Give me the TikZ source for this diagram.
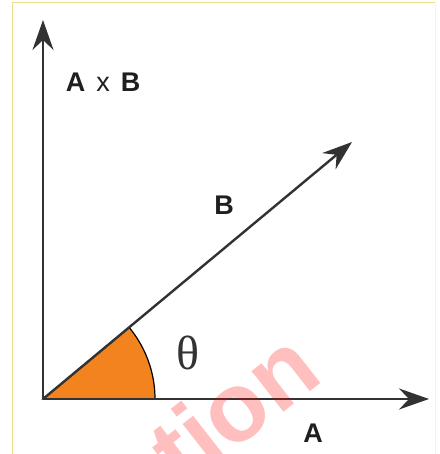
\documentclass[tikz,border=0pt]{standalone}
\usepackage{fontspec}
\setmainfont{Liberation Sans}
\newfontfamily\greekfont{Liberation Serif}
\usepackage{xcolor}
\usepackage{tikz}
\usetikzlibrary{arrows.meta}

\definecolor{vecgray}{RGB}{50,50,50}
\definecolor{wedgeorange}{RGB}{243,131,30}
\definecolor{frameyellow}{RGB}{238,222,140}

\begin{document}
\begin{tikzpicture}[
    x=0.5pt, y=0.5pt,
    vec/.style  ={-{Stealth[length=15pt,width=10.5pt,inset=5pt]},
                  line width=1.2pt, draw=vecgray},
    lbl/.style  ={font=\fontsize{13.5}{14}\selectfont\bfseries,
                  text=black!88, inner sep=0pt},
    ang/.style  ={font=\greekfont\fontsize{24}{24}\selectfont,
                  text=black!80, inner sep=0pt},
    wmark/.style={font=\fontsize{49}{49}\selectfont\bfseries,
                  text=red, text opacity=0.25, inner sep=0pt},
  ]
  \useasboundingbox (0,0) rectangle (439,454);

  % frame
  \draw[frameyellow, line width=0.8pt] (12.5,0) -- (12.5,451.5) -- (435.5,451.5);
  \draw[frameyellow!35, line width=0.8pt] (435.5,451.5) -- (435.5,0);

  % origin and vector ends
  \coordinate (O)  at (43,55);
  \coordinate (Ae) at (429,55);
  \coordinate (Be) at (352,312);
  \coordinate (Ce) at (43,434);

  % angle wedge
  \filldraw[fill=wedgeorange, draw=black, line width=0.6pt]
    (O) -- ++(39.7:112) arc[start angle=39.7, end angle=0, radius=112] -- cycle;

  % vectors
  \draw[vec] (O) -- (Ae);
  \draw[vec] (O) -- (Be);
  \draw[vec] (O) -- (Ce);

  % labels
  \node[lbl] (lAxB) at (103,372) {A\hspace{5.5pt}{\mdseries x}\hspace{5.5pt}B};
  \node[lbl] (lB)   at (224,249) {B};
  \node[lbl] (lA)   at (313,21)  {A};
  \node[ang] (th)   at (188,101) {θ};

  % watermark
  \node[wmark, rotate=38] (wm) at (233,47) {tion};
\end{tikzpicture}
\end{document}
